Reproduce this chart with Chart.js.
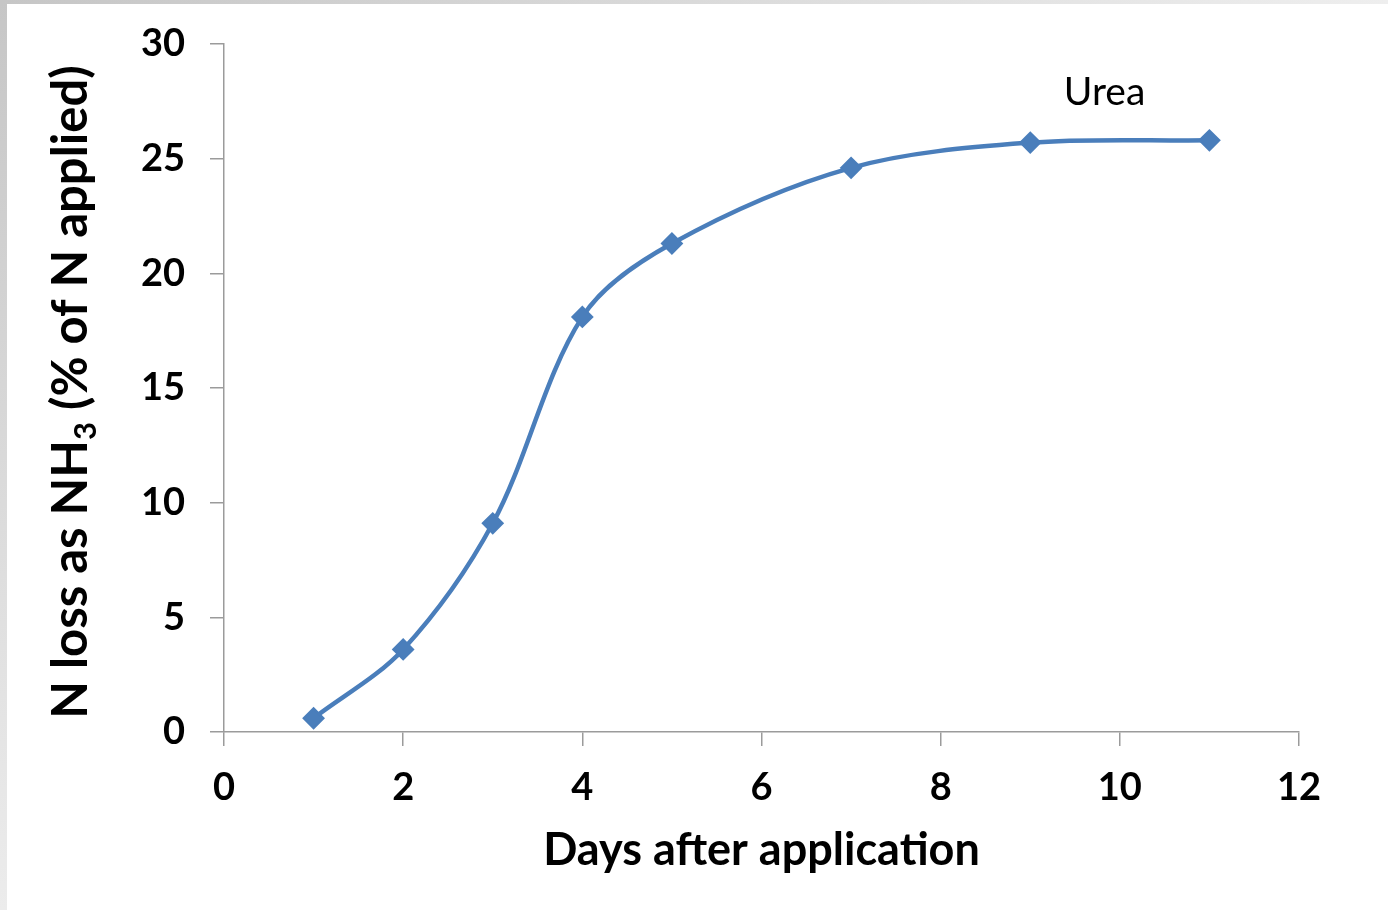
<!DOCTYPE html>
<html>
<head>
<meta charset="utf-8">
<title>N loss as NH3 after urea application</title>
<script src="https://cdn.jsdelivr.net/npm/chart.js@4/dist/chart.umd.min.js"></script>
<style>
  html, body { margin: 0; padding: 0; background: #ffffff; }
  #wrap { position: relative; width: 1388px; height: 910px; overflow: hidden; background: #ffffff; }
  #topband { position: absolute; left: 0; top: 0; width: 1388px; height: 4px;
             background: linear-gradient(to right, #c6c6c6, #eeeeee); }
  #leftband { position: absolute; left: 0; top: 0; width: 7px; height: 910px;
              background: linear-gradient(to bottom, #c6c6c6, #ececec); }
  canvas { position: absolute; left: 0; top: 0; }
</style>
</head>
<body>
<div id="wrap">
  <div id="topband"></div>
  <div id="leftband"></div>
  <canvas id="chart" width="1388" height="910"></canvas>
</div>
<script>
// Days after application and cumulative N loss as NH3 (% of N applied)
const days = [1, 2, 3, 4, 5, 7, 9, 11];
const nLoss = [0.6, 3.6, 9.1, 18.1, 21.3, 24.6, 25.7, 25.8];

// Axis tick labels
const xTickValues = [0, 2, 4, 6, 8, 10, 12];
const yTickValues = [0, 5, 10, 15, 20, 25, 30];

const seriesName = 'Urea';
const xTitle = 'Days after application';
const yTitleParts = [
  { text: 'N loss as NH', sub: false },
  { text: '3', sub: true },
  { text: ' (% of N applied)', sub: false }
];

const FONT = 'Lato, "Open Sans", "DejaVu Sans", sans-serif';
const AXIS_GREY = '#9b9b9b';
const LINE_BLUE = '#4a7ebb';

// Draws the axis titles and the series label
const textPlugin = {
  id: 'chartText',
  afterDraw(chart) {
    const ctx = chart.ctx;
    const area = chart.chartArea;
    const xs = chart.scales.x, ys = chart.scales.y;

    ctx.save();
    ctx.fillStyle = '#000000';

    // X axis title
    ctx.font = 'bold 45px ' + FONT;
    ctx.textAlign = 'center';
    ctx.textBaseline = 'alphabetic';
    ctx.fillText(xTitle, (area.left + area.right) / 2, 865);

    // Y axis title (rotated, with subscript)
    const mainFont = 'bold 49px ' + FONT;
    const subFont = 'bold 31px ' + FONT;
    let total = 0;
    const widths = yTitleParts.map(p => {
      ctx.font = p.sub ? subFont : mainFont;
      const w = ctx.measureText(p.text).width;
      total += w;
      return w;
    });
    ctx.translate(87, 392);
    ctx.rotate(-Math.PI / 2);
    ctx.textAlign = 'left';
    let cx = -total / 2;
    yTitleParts.forEach((p, i) => {
      ctx.font = p.sub ? subFont : mainFont;
      ctx.fillText(p.text, cx, p.sub ? 9 : 0);
      cx += widths[i];
    });
    ctx.restore();

    // Series label
    ctx.save();
    ctx.fillStyle = '#000000';
    ctx.font = '39px ' + FONT;
    ctx.textAlign = 'center';
    ctx.textBaseline = 'alphabetic';
    ctx.fillText(seriesName, xs.getPixelForValue(9.83), ys.getPixelForValue(27.35));
    ctx.restore();
  }
};

const tickFont = { family: FONT, weight: 'bold', size: 38 };

new Chart(document.getElementById('chart'), {
  type: 'line',
  data: {
    datasets: [{
      label: seriesName,
      data: days.map((d, i) => ({ x: d, y: nLoss[i] })),
      borderColor: LINE_BLUE,
      backgroundColor: LINE_BLUE,
      borderWidth: 4.5,
      tension: 0.33,
      fill: false,
      pointStyle: 'rectRot',
      pointRadius: 10,
      pointBorderWidth: 2,
      pointBorderColor: LINE_BLUE,
      pointBackgroundColor: LINE_BLUE
    }]
  },
  options: {
    responsive: false,
    animation: false,
    devicePixelRatio: 1,
    layout: { padding: { top: 44, right: 89, left: 0, bottom: 0 } },
    plugins: {
      legend: { display: false },
      tooltip: { enabled: false },
      title: { display: false }
    },
    scales: {
      x: {
        type: 'linear',
        min: 0,
        max: 12,
        afterBuildTicks(scale) { scale.ticks = xTickValues.map(v => ({ value: v })); },
        afterFit(scale) { scale.height = 178; scale.paddingLeft = 0; scale.paddingRight = 0; },
        ticks: { color: '#000000', font: tickFont, padding: 19, maxRotation: 0, autoSkip: false },
        grid: { drawOnChartArea: false, drawTicks: true, tickLength: 14, color: AXIS_GREY, lineWidth: 1.5 },
        border: { display: true, color: AXIS_GREY, width: 1.5 }
      },
      y: {
        type: 'linear',
        min: 0,
        max: 30,
        afterBuildTicks(scale) { scale.ticks = yTickValues.map(v => ({ value: v })); },
        afterFit(scale) { scale.width = 224; scale.paddingTop = 0; scale.paddingBottom = 0; },
        ticks: { color: '#000000', font: tickFont, padding: 25, autoSkip: false },
        grid: { drawOnChartArea: false, drawTicks: true, tickLength: 14, color: AXIS_GREY, lineWidth: 1.5 },
        border: { display: true, color: AXIS_GREY, width: 1.5 }
      }
    }
  },
  plugins: [textPlugin]
});
</script>
</body>
</html>
